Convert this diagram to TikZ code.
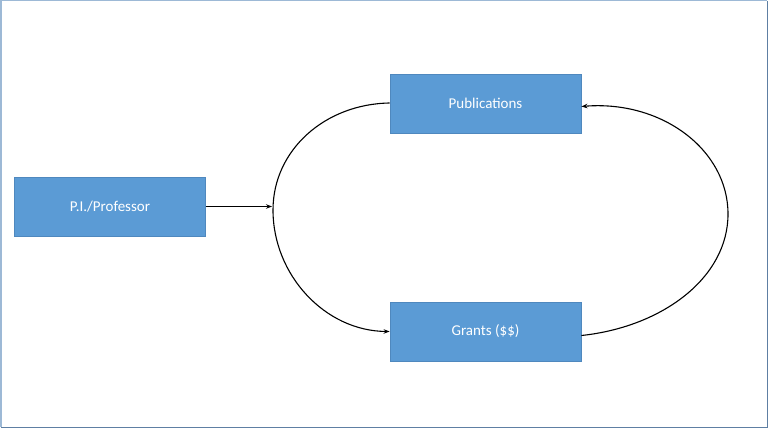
\documentclass[tikz,border=0pt]{standalone}
\usepackage{fontspec}
\setmainfont{Carlito}
\usetikzlibrary{arrows.meta}
\definecolor{boxfill}{HTML}{5B9BD5}
\definecolor{boxedge}{HTML}{4F88BE}
\definecolor{frameblue}{HTML}{9DB9D6}
\definecolor{framedark}{HTML}{5E7FA3}
\begin{document}
\begin{tikzpicture}[x=1pt,y=-1pt,
  blockbox/.style={draw=boxedge,line width=0.8pt,fill=boxfill,minimum width=191pt,minimum height=59pt,inner sep=0pt,text=white,font=\fontsize{15}{17}\selectfont},
  conn/.style={line width=1.1pt,-{Stealth[length=6pt,width=4.5pt]}}]
\useasboundingbox (0,0) rectangle (768,428);
\draw[frameblue,line width=1.5pt] (767.25,0.75) -- (0.75,0.75) -- (0.75,427.25);
\draw[framedark,line width=1.5pt] (0.75,427.25) -- (767.25,427.25) -- (767.25,0.75);
\node[blockbox] (pi) at (110,206.5) {P.I./Professor};
\node[blockbox] (pub) at (485.5,103.5) {Publications};
\node[blockbox] (gr) at (485.5,331.5) {Grants (\$\$)};
\coordinate (lft) at (273,210);
\coordinate (rgt) at (728,214);
\coordinate (pientry) at (272,206.5);
\draw[conn] (pi.east) -- (pi.east -| pientry);
\draw[conn] ([yshift=0.5pt]pub.west) .. controls (325,104) and (273,150) .. (lft)
  .. controls (273,275) and (325,331) .. (gr.west);
\draw[conn] ([yshift=-4pt]gr.east) .. controls (662,327) and (728,278) .. (rgt)
  .. controls (728,150) and (662,100) .. ([yshift=-3pt]pub.east);
\end{tikzpicture}
\end{document}
